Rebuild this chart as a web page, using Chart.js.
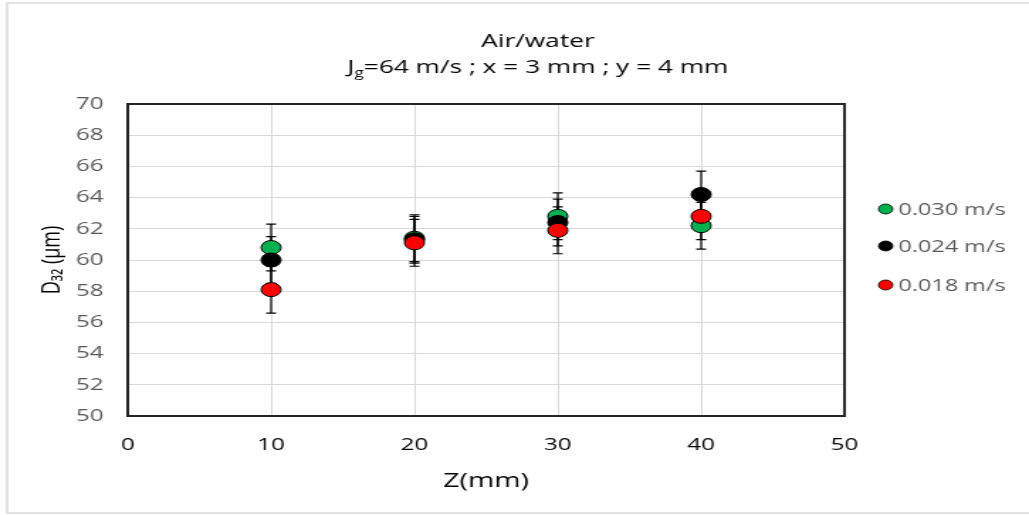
<!DOCTYPE html>
<html>
<head>
<meta charset="utf-8">
<script src="https://cdn.jsdelivr.net/npm/chart.js@4"></script>
<style>
  html, body { margin: 0; padding: 0; background: #fff; overflow: hidden; }
  /* the reference is stretched sideways, so the chart is drawn narrow and widened */
  #wrap { width: 725px; height: 515px; transform: scaleX(1.4193); transform-origin: 0 0; }
</style>
</head>
<body>
<div id="wrap"><canvas id="myChart"></canvas></div>
<script>
const zValues = [10, 20, 30, 40];

const labels = ['0.030 m/s', '0.024 m/s', '0.018 m/s'];

const d030 = [60.8, 61.4, 62.8, 62.2];
const d024 = [60.0, 61.3, 62.4, 64.2];
const d018 = [58.1, 61.1, 61.9, 62.8];

const err030 = [1.5, 1.5, 1.5, 1.5];
const err024 = [1.5, 1.5, 1.5, 1.5];
const err018 = [1.5, 1.5, 1.5, 1.5];

const yTicks = [50, 52, 54, 56, 58, 60, 62, 64, 66, 68, 70];
const xTicks = [0, 10, 20, 30, 40, 50];

const font = "'Open Sans', 'DejaVu Sans', sans-serif";

function points(vals) {
  return zValues.map((z, i) => ({ x: z, y: vals[i] }));
}

const datasets = [
  { label: labels[0], data: points(d030), errors: err030, backgroundColor: '#00B050', order: 3 },
  { label: labels[1], data: points(d024), errors: err024, backgroundColor: '#000000', order: 2 },
  { label: labels[2], data: points(d018), errors: err018, backgroundColor: '#FF0000', order: 1 }
];
datasets.forEach(ds => {
  ds.pointRadius = 7;
  ds.pointHoverRadius = 7;
  ds.borderColor = '#000';
  ds.borderWidth = 1;
  ds.showLine = false;
});

// error bars behind the markers
const errorBars = {
  id: 'errorBars',
  beforeDatasetsDraw(chart) {
    const { ctx, scales: { x, y } } = chart;
    ctx.save();
    ctx.strokeStyle = '#000';
    ctx.lineWidth = 1.2;
    chart.data.datasets.forEach(ds => {
      ds.data.forEach((p, i) => {
        const px = x.getPixelForValue(p.x);
        const top = y.getPixelForValue(p.y + ds.errors[i]);
        const bot = y.getPixelForValue(p.y - ds.errors[i]);
        ctx.beginPath();
        ctx.moveTo(px, top); ctx.lineTo(px, bot);
        ctx.moveTo(px - 3.5, top); ctx.lineTo(px + 3.5, top);
        ctx.moveTo(px - 3.5, bot); ctx.lineTo(px + 3.5, bot);
        ctx.stroke();
      });
    });
    ctx.restore();
  }
};

// titles, legend, plot border and outer frame
const decor = {
  id: 'decor',
  afterDraw(chart) {
    const { ctx, chartArea: a } = chart;
    ctx.save();

    ctx.strokeStyle = '#d9d9d9';
    ctx.lineWidth = 1.5;
    ctx.strokeRect(5, 3, 900, 510);

    ctx.strokeStyle = '#262626';
    ctx.lineWidth = 2;
    ctx.strokeRect(a.left, a.top, a.right - a.left, a.bottom - a.top);

    // title
    const cx = 379;
    ctx.fillStyle = '#000';
    ctx.textBaseline = 'alphabetic';
    ctx.textAlign = 'center';
    ctx.font = '18.5px ' + font;
    ctx.fillText('Air/water', cx, 47);

    const big = '18.5px ' + font, small = '12px ' + font;
    const parts = [['J', big, 0], ['g', small, 4], ['=64 m/s ; x = 3 mm ; y = 4 mm', big, 0]];
    let w = 0;
    parts.forEach(p => { ctx.font = p[1]; w += ctx.measureText(p[0]).width; });
    let sx = cx - w / 2;
    ctx.textAlign = 'left';
    parts.forEach(p => {
      ctx.font = p[1];
      ctx.fillText(p[0], sx, 73 + p[2]);
      sx += ctx.measureText(p[0]).width;
    });

    // legend
    const rows = [209, 246, 285];
    ctx.font = '16.5px ' + font;
    ctx.textBaseline = 'middle';
    chart.data.datasets.forEach((ds, i) => {
      ctx.beginPath();
      ctx.arc(624, rows[i], 5, 0, Math.PI * 2);
      ctx.fillStyle = ds.backgroundColor;
      ctx.fill();
      ctx.lineWidth = 0.8;
      ctx.strokeStyle = '#000';
      ctx.stroke();
      ctx.fillStyle = '#595959';
      ctx.fillText(ds.label, 633, rows[i] + 1);
    });
    ctx.restore();
  }
};

new Chart(document.getElementById('myChart'), {
  type: 'scatter',
  data: { datasets },
  plugins: [errorBars, decor],
  options: {
    responsive: true,
    maintainAspectRatio: false,
    animation: false,
    layout: { padding: { top: 104, right: 130, bottom: 0, left: 0 } },
    plugins: { legend: { display: false }, tooltip: { enabled: false } },
    scales: {
      x: {
        type: 'linear',
        min: 0, max: 50,
        afterFit: s => { s.height = 99; },
        afterBuildTicks: s => { s.ticks = xTicks.map(v => ({ value: v })); },
        grid: { color: '#d9d9d9', drawTicks: false },
        border: { display: false },
        ticks: { color: '#000', padding: 19, font: { family: font, size: 17 } },
        title: {
          display: true, text: 'Z(mm)', color: '#000',
          font: { family: font, size: 20 }, padding: { top: 22, bottom: 22 }
        }
      },
      y: {
        min: 50, max: 70,
        afterFit: s => { s.width = 90; },
        afterBuildTicks: s => { s.ticks = yTicks.map(v => ({ value: v })); },
        grid: { color: '#d9d9d9', drawTicks: false },
        border: { display: false },
        ticks: { color: '#595959', padding: 17, font: { family: font, size: 17 } },
        title: {
          display: true, text: 'D₃₂ (µm)', color: '#000',
          font: { family: font, size: 18 }, padding: { top: 26, bottom: 0 }
        }
      }
    }
  }
});
</script>
</body>
</html>
